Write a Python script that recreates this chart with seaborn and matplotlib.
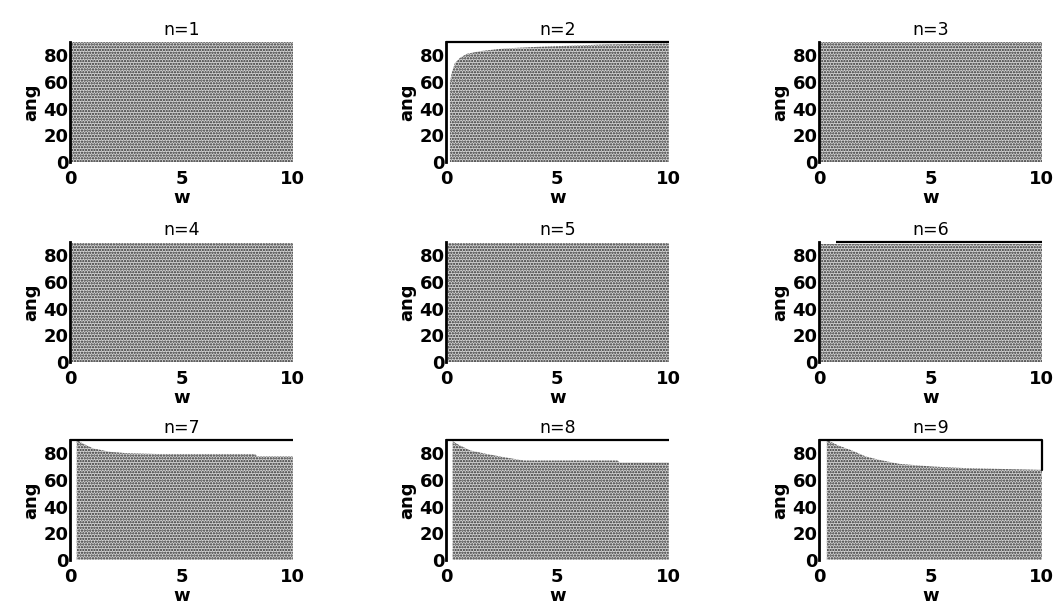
import numpy as np
import matplotlib
matplotlib.use("Agg")
import matplotlib.pyplot as plt
import seaborn as sns

# boundary of the feasible (dotted) region for each n: w knots and upper angle
w_knots = {
    1: [0.05, 10.0],
    2: [0.18, 0.26, 0.4, 0.63, 0.94, 1.54, 2.6, 4.1, 7.1, 10.0],
    3: [0.05, 10.0],
    4: [0.1, 10.0],
    5: [0.1, 10.0],
    6: [0.1, 10.0],
    7: [0.3, 0.6, 1.05, 1.8, 2.55, 3.9, 8.3, 8.4, 10.0],
    8: [0.3, 0.6, 1.1, 1.8, 2.6, 3.5, 7.7, 7.8, 10.0],
    9: [0.35, 0.87, 1.48, 2.1, 2.7, 3.6, 5.1, 6.6, 10.0],
}
ang_top = {
    1: [90, 90],
    2: [60, 66.5, 74, 78, 81, 83, 85, 86.2, 88, 88.7],
    3: [90, 90],
    4: [89, 89],
    5: [89, 89],
    6: [88, 88],
    7: [90, 87, 83.5, 81, 80, 79.4, 79.4, 77.6, 77.6],
    8: [89, 86, 82, 79.5, 77, 74.5, 74.5, 73, 73],
    9: [90, 85.7, 82, 77.5, 75, 72, 70, 68.8, 67.5],
}
# black outline along ang=90 (start w) for panels that show one
top_line_start = {2: 0.0, 6: 0.75, 7: 0.0, 8: 0.0, 9: 0.0}

x_ticks = [0, 5, 10]
y_ticks = [0, 20, 40, 60, 80]

sns.set_theme(style="ticks")
plt.rcParams["font.family"] = ["DejaVu Sans"]
plt.rcParams["text.color"] = "black"
plt.rcParams["xtick.color"] = "black"
plt.rcParams["ytick.color"] = "black"
plt.rcParams["axes.labelcolor"] = "black"
plt.rcParams["hatch.linewidth"] = 1.1
plt.rcParams["hatch.color"] = "#2a2a2a"

fig = plt.figure(figsize=(10.56, 6.04), dpi=100)
lefts = [0.0663, 0.4223, 0.7756]
bottoms = [0.7318, 0.4007, 0.0728]
aw, ah = 0.211, 0.199

for i in range(9):
    n = i + 1
    r, c = divmod(i, 3)
    ax = fig.add_axes([lefts[c], bottoms[r], aw, ah])
    w = np.array(w_knots[n])
    a = np.array(ang_top[n])
    ax.fill_between(w, 0, a, facecolor="#d4d4d4", edgecolor="#2a2a2a",
                    hatch="......", linewidth=0)
    if n in top_line_start:
        ax.plot([top_line_start[n], 10], [90, 90], color="black", lw=1.6,
                clip_on=False, solid_capstyle="butt")
    if n == 9:
        ax.plot([10, 10], [90, a[-1]], color="black", lw=1.6, clip_on=False)
    ax.set_xlim(0, 10)
    ax.set_ylim(0, 90)
    ax.set_xticks(x_ticks)
    ax.set_yticks(y_ticks)
    ax.set_xticklabels([str(t) for t in x_ticks], fontsize=13, fontweight="bold")
    ax.set_yticklabels([str(t) for t in y_ticks], fontsize=13, fontweight="bold")
    ax.tick_params(axis="both", length=0)
    ax.tick_params(axis="x", pad=6)
    ax.tick_params(axis="y", pad=1)
    ax.set_title(f"n={n}", fontsize=12.5, pad=5)
    ax.set_xlabel("w", fontsize=13, fontweight="bold", labelpad=0.5)
    ax.set_ylabel("ang", fontsize=13, fontweight="bold", labelpad=2)
    ax.set_facecolor("white")
    sns.despine(ax=ax, top=True, right=True, bottom=True)
    ax.spines["left"].set_linewidth(2.0)
    ax.spines["left"].set_color("black")

fig.savefig("out.png", dpi=100)
